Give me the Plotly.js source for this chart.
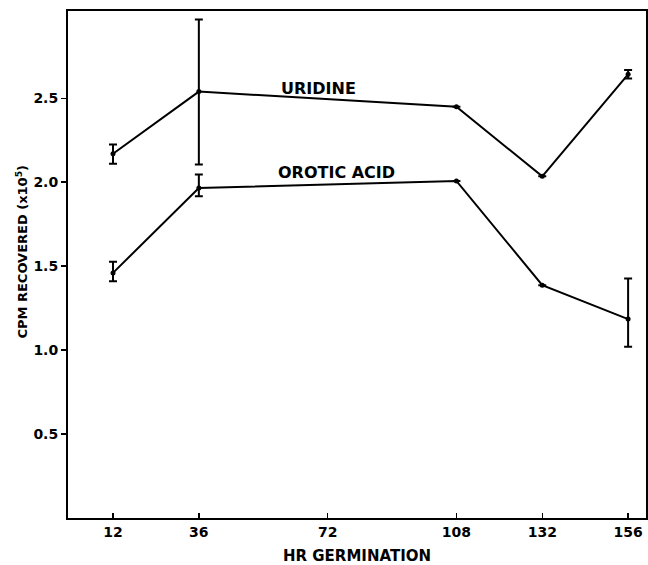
<!DOCTYPE html>
<html>
<head>
<meta charset="utf-8">
<script src="https://cdn.plot.ly/plotly-3.0.1.min.js"></script>
<style>html,body{margin:0;padding:0;background:#fff;}#chart{width:648px;height:565px;}</style>
</head>
<body>
<div id="chart"></div>
<script>
const hours = [12, 36, 108, 132, 156];
const uridine = [2.17, 2.54, 2.45, 2.035, 2.643];
const uridineErrPlus = [0.055, 0.43, 0, 0, 0.025];
const uridineErrMinus = [0.06, 0.435, 0, 0, 0.025];
const orotic = [1.46, 1.966, 2.008, 1.387, 1.185];
const oroticErrPlus = [0.066, 0.08, 0, 0, 0.242];
const oroticErrMinus = [0.05, 0.05, 0, 0, 0.165];
const xTicks = [12, 36, 72, 108, 132, 156];
const yTicks = [0.5, 1.0, 1.5, 2.0, 2.5];
const yTickText = ["0.5", "1.0", "1.5", "2.0", "2.5"];
const seriesLabels = [
  {text: "URIDINE", x: 69.5, y: 2.56},
  {text: "OROTIC ACID", x: 74.5, y: 2.06}
];

const FONT = "DejaVu Sans, Arial, sans-serif";
function trace(y, plus, minus, name) {
  return {
    x: hours, y: y, name: name, type: "scatter", mode: "lines+markers",
    line: {color: "#000", width: 2},
    marker: {color: "#000", size: 5},
    error_y: {type: "data", symmetric: false, array: plus, arrayminus: minus,
      color: "#000", thickness: 2, width: 4},
    showlegend: false, hoverinfo: "skip"
  };
}

const data = [
  trace(uridine, uridineErrPlus, uridineErrMinus, "Uridine"),
  trace(orotic, oroticErrPlus, oroticErrMinus, "Orotic acid")
];

const annotations = seriesLabels.map(l => ({
  x: l.x, y: l.y, xref: "x", yref: "y", text: l.text, showarrow: false,
  font: {family: FONT, size: 16, weight: "bold", color: "#000"}
}));
annotations.push({
  xref: "paper", yref: "paper", x: -0.08, y: 0.525, xanchor: "center", yanchor: "middle",
  text: "CPM RECOVERED (x10<sup>5</sup>)", textangle: -90, showarrow: false,
  font: {family: FONT, size: 13, weight: "bold", color: "#000"}
});

const layout = {
  width: 648, height: 565,
  margin: {l: 68, r: 2, t: 11, b: 47},
  paper_bgcolor: "#fff", plot_bgcolor: "#fff",
  font: {family: FONT, color: "#000", size: 13},
  xaxis: {
    range: [-0.58, 161], tickvals: xTicks, ticktext: xTicks.map(String),
    ticks: "inside", ticklen: 5, tickwidth: 1.5, tickcolor: "#000",
    showline: true, linecolor: "#000", linewidth: 2, mirror: true,
    showgrid: false, zeroline: false,
    tickfont: {family: FONT, size: 14, weight: "bold"},
    title: {text: "HR GERMINATION", standoff: 12,
      font: {family: FONT, size: 15, weight: "bold"}}
  },
  yaxis: {
    range: [0, 3.02], tickvals: yTicks, ticktext: yTickText,
    ticks: "outside", ticklen: 5, tickwidth: 1.5, tickcolor: "#000",
    showline: true, linecolor: "#000", linewidth: 2, mirror: true,
    showgrid: false, zeroline: false,
    tickfont: {family: FONT, size: 14, weight: "bold"}
  },
  annotations: annotations
};

Plotly.newPlot("chart", data, layout, {displayModeBar: false, staticPlot: true});
</script>
</body>
</html>
